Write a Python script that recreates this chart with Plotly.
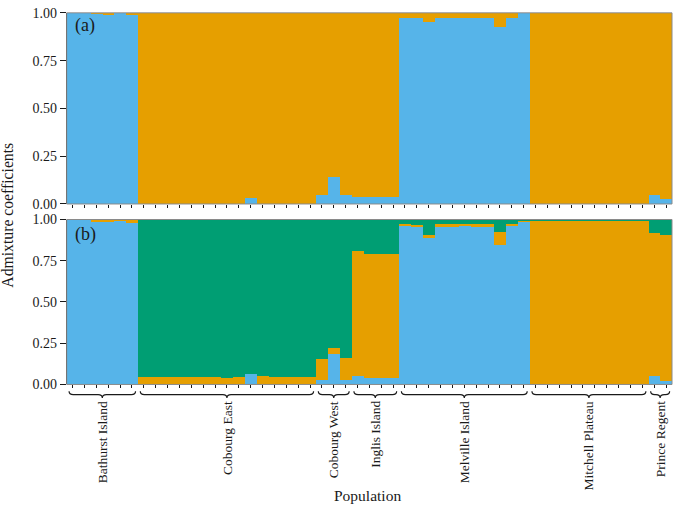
import plotly.graph_objects as go

# ---------------- data ----------------
populations = ["Bathurst Island", "Cobourg East", "Cobourg West", "Inglis Island",
               "Melville Island", "Mitchell Plateau", "Prince Regent"]
pop_sizes = [6, 15, 3, 4, 11, 10, 2]

y_tick_vals = [0, 0.25, 0.5, 0.75, 1.0]
y_tick_text = ["0.00", "0.25", "0.50", "0.75", "1.00"]

# Panel (a): K = 2
blue_a = [1.0, 1.0, 0.996, 0.992, 1.0, 0.99,
          0, 0, 0, 0, 0, 0, 0, 0, 0, 0.03, 0, 0, 0, 0, 0,
          0.05, 0.14, 0.05,
          0.04, 0.035, 0.035, 0.04,
          0.976, 0.973, 0.951, 0.972, 0.973, 0.974, 0.975, 0.973, 0.927, 0.975, 1.0,
          0, 0, 0, 0, 0, 0, 0, 0, 0, 0,
          0.05, 0.025]
orange_a = [0.0, 0.0, 0.004, 0.008, 0.0, 0.01,
            1, 1, 1, 1, 1, 1, 1, 1, 1, 0.97, 1, 1, 1, 1, 1,
            0.95, 0.86, 0.95,
            0.96, 0.965, 0.965, 0.96,
            0.024, 0.027, 0.049, 0.028, 0.027, 0.026, 0.025, 0.027, 0.073, 0.025, 0.0,
            1, 1, 1, 1, 1, 1, 1, 1, 1, 1,
            0.95, 0.975]

# Panel (b): K = 3
blue_b = [1.0, 1.0, 0.993, 0.987, 0.995, 0.982,
          0, 0, 0, 0, 0, 0, 0, 0, 0, 0.066, 0, 0, 0, 0, 0,
          0.03, 0.19, 0.033,
          0.053, 0.04, 0.04, 0.045,
          0.969, 0.963, 0.896, 0.963, 0.963, 0.964, 0.963, 0.963, 0.849, 0.965, 0.99,
          0, 0, 0, 0, 0, 0, 0, 0, 0, 0,
          0.053, 0.024]
orange_b = [0.0, 0.0, 0.007, 0.013, 0.005, 0.018,
            0.05, 0.05, 0.05, 0.05, 0.05, 0.05, 0.05, 0.043, 0.05, 0.0, 0.052, 0.049, 0.049, 0.049, 0.049,
            0.125, 0.035, 0.132,
            0.761, 0.754, 0.754, 0.749,
            0.006, 0.007, 0.012, 0.01, 0.01, 0.01, 0.01, 0.01, 0.079, 0.01, 0.005,
            0.995, 0.995, 0.995, 0.995, 0.995, 0.995, 0.995, 0.995, 0.995, 0.995,
            0.867, 0.886]
green_b = [0.0, 0.0, 0.0, 0.0, 0.0, 0.0,
           0.95, 0.95, 0.95, 0.95, 0.95, 0.95, 0.95, 0.957, 0.95, 0.934, 0.948, 0.951, 0.951, 0.951, 0.951,
           0.845, 0.775, 0.835,
           0.186, 0.206, 0.206, 0.206,
           0.025, 0.03, 0.092, 0.027, 0.027, 0.026, 0.027, 0.027, 0.072, 0.025, 0.005,
           0.005, 0.005, 0.005, 0.005, 0.005, 0.005, 0.005, 0.005, 0.005, 0.005,
           0.08, 0.09]

# ---------------- styling ----------------
W, H = 673, 506
BLUE, ORANGE, GREEN = "#56B4E9", "#E69F00", "#009E73"
FONT = "Liberation Serif, Times New Roman, serif"
INK = "#1a1a1a"


def px_x(p):
    return p / W


def px_y(p):
    return 1 - p / H


n = sum(pop_sizes)
idx = list(range(n))

fig = go.Figure()
for vals, col in [(blue_a, BLUE), (orange_a, ORANGE)]:
    fig.add_bar(x=idx, y=vals, marker_color=col, marker_line_width=0,
                xaxis="x", yaxis="y", showlegend=False, hoverinfo="skip")
for vals, col in [(blue_b, BLUE), (orange_b, ORANGE), (green_b, GREEN)]:
    fig.add_bar(x=idx, y=vals, marker_color=col, marker_line_width=0,
                xaxis="x2", yaxis="y2", showlegend=False, hoverinfo="skip")

xdom = [px_x(66.7), px_x(672)]
ya_dom = [px_y(203), px_y(6)]
yb_dom = [px_y(389), px_y(219)]

xax = dict(domain=xdom, range=[-0.5, n - 0.5], tickmode="array", tickvals=idx,
           ticktext=[""] * n, ticks="outside", ticklen=3, tickwidth=1, tickcolor=INK,
           showgrid=False, zeroline=False, showline=False, fixedrange=True)
yax = dict(range=[0, 1], tickmode="array", tickvals=y_tick_vals, ticktext=y_tick_text,
           ticks="outside", ticklen=6, tickwidth=1, tickcolor=INK,
           showgrid=False, zeroline=False, showline=True, linecolor=INK, linewidth=1,
           tickfont=dict(family=FONT, size=14, color=INK), fixedrange=True)

fig.update_layout(
    width=W, height=H, margin=dict(l=0, r=0, t=0, b=0),
    paper_bgcolor="white", plot_bgcolor="white",
    barmode="stack", bargap=0,
    font=dict(family=FONT, color=INK),
    xaxis=dict(xax, anchor="y"),
    xaxis2=dict(xax, anchor="y2"),
    yaxis=dict(yax, domain=ya_dom, anchor="x"),
    yaxis2=dict(yax, domain=yb_dom, anchor="x2"),
)

shapes = []
# panel frames
for yd in (ya_dom, yb_dom):
    shapes.append(dict(type="rect", xref="paper", yref="paper", x0=xdom[0], x1=xdom[1],
                       y0=yd[0], y1=yd[1], line=dict(color="#8a8a8a", width=1),
                       fillcolor="rgba(0,0,0,0)", layer="above"))

# curly braces under the populations
yt, ym, yb = px_y(396), px_y(399.5), px_y(403)
start = -0.5
annotations = []
for name, size in zip(populations, pop_sizes):
    x0 = start + 0.2
    x1 = start + size - 0.2
    xc = start + size / 2
    d = 0.35
    path = (f"M {x0},{yt} Q {x0},{ym} {x0 + d},{ym} L {xc - d},{ym} "
            f"Q {xc},{ym} {xc},{yb} Q {xc},{ym} {xc + d},{ym} "
            f"L {x1 - d},{ym} Q {x1},{ym} {x1},{yt}")
    shapes.append(dict(type="path", xref="x2", yref="paper", path=path,
                       line=dict(color=INK, width=1.2)))
    annotations.append(dict(x=xc, xref="x2", y=px_y(404), yref="paper", text=name,
                            showarrow=False, textangle=-90, xanchor="center", yanchor="top",
                            font=dict(family=FONT, size=13.5, color=INK)))
    start += size

annotations += [
    dict(x=px_x(368), y=0, xref="paper", yref="paper", text="Population",
         showarrow=False, xanchor="center", yanchor="bottom", yshift=-8,
         font=dict(family=FONT, size=15.5, color=INK)),
    dict(x=px_x(8), y=px_y(215), xref="paper", yref="paper", text="Admixture coefficients",
         showarrow=False, textangle=-90, xanchor="center", yanchor="middle",
         font=dict(family=FONT, size=15.7, color=INK)),
    dict(x=px_x(73), y=px_y(19), xref="paper", yref="paper", text="(a)",
         showarrow=False, xanchor="left", yanchor="middle",
         font=dict(family=FONT, size=18, color=INK)),
    dict(x=px_x(73), y=px_y(234), xref="paper", yref="paper", text="(b)",
         showarrow=False, xanchor="left", yanchor="middle",
         font=dict(family=FONT, size=18, color=INK)),
]
fig.update_layout(shapes=shapes, annotations=annotations)

fig.write_html("out.html", config={"displayModeBar": False},
               post_script="document.body.style.margin='0';")
